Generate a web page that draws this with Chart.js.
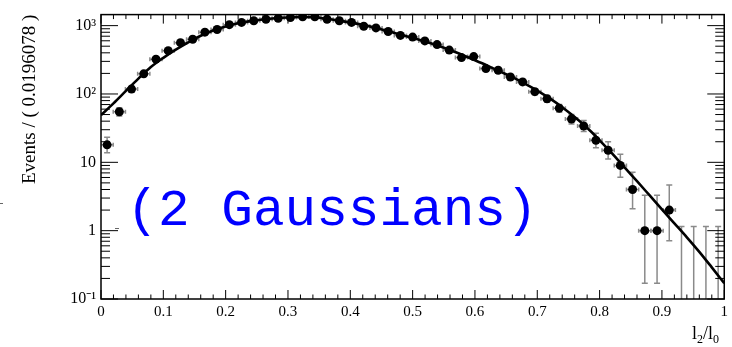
<!DOCTYPE html>
<html lang="en">
<head>
<meta charset="UTF-8">
<title>l2/l0 fit</title>
<script src="https://cdn.jsdelivr.net/npm/chart.js"></script>
<style>
  html, body { margin: 0; padding: 0; background: #fff; }
  canvas { display: block; }
</style>
</head>
<body>
<canvas id="chart" width="732" height="347"></canvas>
<script>
  // histogram of l2/l0, 51 bins of width 0.0196078
  const binCenters = [
    0.0098, 0.0294, 0.0490, 0.0686, 0.0882, 0.1078, 0.1275, 0.1471, 0.1667, 0.1863,
    0.2059, 0.2255, 0.2451, 0.2647, 0.2843, 0.3039, 0.3235, 0.3431, 0.3627, 0.3824,
    0.4020, 0.4216, 0.4412, 0.4608, 0.4804, 0.5000, 0.5196, 0.5392, 0.5588, 0.5784,
    0.5980, 0.6176, 0.6373, 0.6569, 0.6765, 0.6961, 0.7157, 0.7353, 0.7549, 0.7745,
    0.7941, 0.8137, 0.8333, 0.8529, 0.8725, 0.8922, 0.9118, 0.9314, 0.9510, 0.9706,
    0.9902
  ];
  const binHalfWidth = 0.0098;
  const counts = [
    18, 55, 118, 197, 323, 430, 564, 631, 802, 877,
    1033, 1114, 1178, 1241, 1284, 1315, 1345, 1350, 1241, 1178,
    1114, 978, 925, 820, 719, 680, 597, 528, 439, 341,
    352, 235, 222, 177, 150, 108, 85, 62, 43, 34,
    21, 15, 9, 4, 1, 1, 2, 0, 0, 0,
    0
  ];
  // asymmetric (Poisson) errors
  const errLow = [
    4.2, 7.4, 10.9, 14.0, 18.0, 20.7, 23.7, 25.1, 28.3, 29.6,
    32.1, 33.4, 34.3, 35.2, 35.8, 36.3, 36.7, 36.7, 35.2, 34.3,
    33.4, 31.3, 30.4, 28.6, 26.8, 26.1, 24.4, 23.0, 21.0, 18.5,
    18.8, 15.3, 14.9, 13.3, 12.2, 10.4, 9.2, 7.9, 6.6, 5.8,
    4.6, 3.8, 2.94, 1.91, 0.83, 0.83, 1.29, 0, 0, 0,
    0
  ];
  const errHigh = [
    5.3, 7.9, 11.4, 14.5, 18.5, 21.2, 24.2, 25.6, 28.8, 30.1,
    32.6, 33.9, 34.8, 35.7, 36.3, 36.8, 37.2, 37.2, 35.7, 34.8,
    33.9, 31.8, 30.9, 29.1, 27.3, 26.6, 24.9, 23.5, 21.5, 19.0,
    19.3, 15.8, 15.4, 13.8, 12.7, 10.9, 9.7, 8.4, 7.1, 6.9,
    5.6, 5.0, 4.1, 3.16, 2.3, 2.3, 2.64, 1.15, 1.15, 1.15,
    1.15
  ];

  // fitted model (sum of two gaussians), sampled along l2/l0
  const fitX = [
    0.00, 0.02, 0.04, 0.06, 0.08, 0.10, 0.12, 0.14, 0.16, 0.18,
    0.20, 0.22, 0.24, 0.26, 0.28, 0.30, 0.32, 0.34, 0.36, 0.38,
    0.40, 0.42, 0.44, 0.46, 0.48, 0.50, 0.52, 0.54, 0.56, 0.58,
    0.60, 0.62, 0.64, 0.66, 0.68, 0.70, 0.72, 0.74, 0.76, 0.78,
    0.80, 0.82, 0.84, 0.86, 0.88, 0.90, 0.92, 0.94, 0.96, 0.98,
    1.00
  ];
  const fitY = [
    49, 73, 111, 168, 248, 338, 445, 570, 710, 850,
    975, 1080, 1165, 1230, 1280, 1315, 1335, 1325, 1270, 1195,
    1115, 1025, 930, 835, 740, 660, 585, 512, 440, 372,
    312, 260, 214, 176, 142, 112, 86, 64, 46, 32,
    21, 13.5, 8.4, 5.3, 3.3, 2.05, 1.28, 0.8, 0.49, 0.29,
    0.17
  ];

  const xTicks = [0, 0.1, 0.2, 0.3, 0.4, 0.5, 0.6, 0.7, 0.8, 0.9, 1];
  const xTickLabels = ['0', '0.1', '0.2', '0.3', '0.4', '0.5', '0.6', '0.7', '0.8', '0.9', '1'];
  const yTicks = [0.1, 1, 10, 100, 1000];
  const yTickLabels = ['10\u207B\u00B9', '1', '10', '10\u00B2', '10\u00B3'];

  const serif = 'Liberation Serif';

  const pointData = binCenters
    .map((c, i) => ({ x: c, y: counts[i] }))
    .filter(p => p.y > 0);
  const fitData = fitX.map((v, i) => ({ x: v, y: fitY[i] }));

  // error bars go under the markers
  const errorBars = {
    id: 'errorBars',
    beforeDatasetsDraw(chart) {
      const { ctx, chartArea: a, scales: { x, y } } = chart;
      ctx.save();
      ctx.beginPath();
      ctx.rect(a.left, a.top, a.right - a.left, a.bottom - a.top);
      ctx.clip();
      ctx.strokeStyle = '#8a8a8a';
      ctx.lineWidth = 1.5;
      binCenters.forEach((c, i) => {
        const px = x.getPixelForValue(c);
        const lo = counts[i] - errLow[i];
        const yTop = y.getPixelForValue(counts[i] + errHigh[i]);
        const yBot = lo > 0 ? y.getPixelForValue(lo) : a.bottom + 2;
        ctx.beginPath();
        ctx.moveTo(px, yTop);
        ctx.lineTo(px, yBot);
        ctx.moveTo(px - 3, yTop);
        ctx.lineTo(px + 3, yTop);
        if (lo > 0) {
          ctx.moveTo(px - 3, yBot);
          ctx.lineTo(px + 3, yBot);
        }
        if (counts[i] > 0) {
          const py = y.getPixelForValue(counts[i]);
          const xl = x.getPixelForValue(c - binHalfWidth);
          const xr = x.getPixelForValue(c + binHalfWidth);
          ctx.moveTo(xl, py);
          ctx.lineTo(xr, py);
          ctx.moveTo(xl, py - 2);
          ctx.lineTo(xl, py + 2);
          ctx.moveTo(xr, py - 2);
          ctx.lineTo(xr, py + 2);
        }
        ctx.stroke();
      });
      ctx.restore();
    }
  };

  // frame with inward ticks on all four sides, axis label, annotation
  const frame = {
    id: 'frame',
    afterDraw(chart) {
      const { ctx, chartArea: a, scales: { x, y } } = chart;
      ctx.save();
      ctx.strokeStyle = '#000';
      ctx.lineWidth = 1.5;
      ctx.strokeRect(a.left, a.top, a.right - a.left, a.bottom - a.top);

      ctx.lineWidth = 1;
      ctx.beginPath();
      for (let k = 0; k <= 50; k++) {
        const px = x.getPixelForValue(k / 50);
        const len = k % 5 === 0 ? 9 : 4.5;
        ctx.moveTo(px, a.bottom);
        ctx.lineTo(px, a.bottom - len);
        ctx.moveTo(px, a.top);
        ctx.lineTo(px, a.top + len);
      }
      yTicks.forEach(d => {
        for (let m = 1; m <= 9; m++) {
          const v = d * m;
          if (v > y.max) break;
          const py = y.getPixelForValue(v);
          const len = m === 1 ? 17 : 9;
          ctx.moveTo(a.left, py);
          ctx.lineTo(a.left + len, py);
          ctx.moveTo(a.right, py);
          ctx.lineTo(a.right - len, py);
        }
      });
      ctx.stroke();

      // x axis label l2/l0 with subscripts
      ctx.fillStyle = '#000';
      ctx.textBaseline = 'alphabetic';
      ctx.textAlign = 'left';
      let tx = 692;
      const base = 339;
      const parts = [['l', 0], ['2', 1], ['/', 0], ['l', 0], ['0', 1]];
      parts.forEach(([t, sub]) => {
        ctx.font = (sub ? 12 : 18) + 'px "' + serif + '"';
        ctx.fillText(t, tx, sub ? base + 4 : base);
        tx += ctx.measureText(t).width;
      });

      // small margin marks
      ctx.strokeStyle = '#666';
      ctx.beginPath();
      ctx.moveTo(0, 203.5);
      ctx.lineTo(3, 203.5);
      ctx.moveTo(115, 228.5);
      ctx.lineTo(119, 228.5);
      ctx.stroke();

      ctx.font = '52.7px "Liberation Mono"';
      ctx.fillStyle = '#0000ff';
      ctx.fillText('(2 Gaussians)', 126.5, 225);
      ctx.restore();
    }
  };

  new Chart(document.getElementById('chart'), {
    type: 'scatter',
    data: {
      datasets: [
        {
          label: 'data',
          data: pointData,
          pointRadius: 4.5,
          pointHoverRadius: 4.5,
          backgroundColor: '#000',
          borderWidth: 0
        },
        {
          label: 'fit',
          data: fitData,
          showLine: true,
          borderColor: '#000',
          borderWidth: 2.6,
          pointRadius: 0,
          cubicInterpolationMode: 'monotone'
        }
      ]
    },
    options: {
      responsive: false,
      animation: false,
      devicePixelRatio: 1,
      layout: { padding: { left: 0, right: 6, top: 7, bottom: 0 } },
      plugins: {
        legend: { display: false },
        tooltip: { enabled: false }
      },
      scales: {
        x: {
          type: 'linear',
          min: 0,
          max: 1,
          afterBuildTicks: s => { s.ticks = xTicks.map(v => ({ value: v })); },
          afterFit: s => { s.height = 48; },
          ticks: {
            callback: (v, i) => xTickLabels[i],
            color: '#000',
            font: { family: serif, size: 15 },
            padding: 4,
            maxRotation: 0,
            autoSkip: false
          },
          grid: { display: false, drawTicks: false },
          border: { display: false }
        },
        y: {
          type: 'logarithmic',
          min: 0.1,
          max: 1450,
          afterBuildTicks: s => { s.ticks = yTicks.map(v => ({ value: v })); },
          afterFit: s => { s.width = 101; },
          ticks: {
            callback: (v, i) => yTickLabels[i],
            color: '#000',
            font: { family: serif, size: 16 },
            padding: 5,
            autoSkip: false
          },
          grid: { display: false, drawTicks: false },
          border: { display: false },
          title: {
            display: true,
            text: 'Events / ( 0.0196078 )',
            align: 'end',
            color: '#000',
            font: { family: serif, size: 19 },
            padding: { top: 19, bottom: 0 }
          }
        }
      }
    },
    plugins: [errorBars, frame]
  });
</script>
</body>
</html>
